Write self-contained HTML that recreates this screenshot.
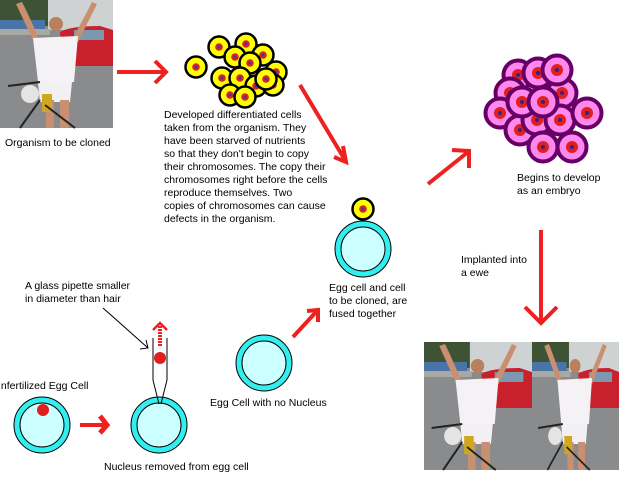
<!DOCTYPE html>
<html><head><meta charset="utf-8"><style>
html,body{margin:0;padding:0;background:#fff;}
svg{display:block}
text{font-family:"Liberation Sans",sans-serif;font-size:10.5px;fill:#000}
</style></head><body>
<svg width="620" height="480" viewBox="0 0 620 480" xmlns="http://www.w3.org/2000/svg">
<defs>
<g id="photo">
<rect width="113" height="128" fill="#8a8b8c"/>
<rect width="55" height="26" fill="#3e5234"/>
<rect x="48" y="0" width="65" height="30" fill="#cfd2d2"/>
<rect x="0" y="20" width="45" height="9" fill="#4a74a8"/>
<rect x="0" y="29" width="50" height="6" fill="#a8a8a4"/>
<path d="M60 32 Q70 26 100 26 L113 30 L113 66 L72 66 L62 52Z" fill="#c8202c"/>
<rect x="74" y="30" width="30" height="10" fill="#7b98ae"/>
<path d="M16 4 L22 2 L26 10 L38 36 L34 42Z" fill="#c89070"/>
<path d="M97 4 L92 2 L88 10 L74 36 L78 42Z" fill="#c89070"/>
<circle cx="56" cy="24" r="7" fill="#b8805c"/>
<path d="M33 38 L78 36 L74 82 L38 82Z" fill="#f4f2f4"/>
<path d="M38 82 L72 82 L70 102 L40 102Z" fill="#f2f0f2"/>
<rect x="46" y="100" width="8" height="28" fill="#c89070"/>
<rect x="60" y="100" width="9" height="28" fill="#c89070"/>
<circle cx="30" cy="94" r="9" fill="#e4e4e4"/>
<rect x="42" y="94" width="10" height="18" fill="#d0a820"/>
<g stroke="#222" stroke-width="2" fill="none"><line x1="8" y1="86" x2="40" y2="82"/><line x1="40" y1="100" x2="20" y2="128"/><line x1="45" y1="105" x2="75" y2="128"/></g>
</g>
<g id="yc"><circle r="10.5" fill="#ffff00" stroke="#000" stroke-width="2.5"/><circle r="3.8" fill="#e02020"/><circle r="1.5" fill="#3040a0"/></g>
<g id="pc"><circle r="14.5" fill="#ff88ee" stroke="#660066" stroke-width="4"/><circle r="6" fill="#e02020"/><circle r="2" fill="#3a2080"/></g>
</defs>

<use href="#photo" x="0" y="0"/>
<g transform="translate(424,342) scale(0.956,1)"><use href="#photo"/></g>
<g transform="translate(532,342) scale(0.77,1)"><use href="#photo"/></g>

<use href="#yc" x="196" y="67"/>
<use href="#yc" x="219" y="47"/>
<use href="#yc" x="246" y="44"/>
<use href="#yc" x="263" y="55"/>
<use href="#yc" x="235" y="57"/>
<use href="#yc" x="276" y="72"/>
<use href="#yc" x="222" y="78"/>
<use href="#yc" x="250" y="63"/>
<use href="#yc" x="240" y="78"/>
<use href="#yc" x="256" y="86"/>
<use href="#yc" x="273" y="85"/>
<use href="#yc" x="230" y="95"/>
<use href="#yc" x="245" y="97"/>
<use href="#yc" x="266" y="79"/>

<use href="#pc" x="518" y="75"/>
<use href="#pc" x="538" y="73"/>
<use href="#pc" x="510" y="93"/>
<use href="#pc" x="562" y="93"/>
<use href="#pc" x="557" y="70"/>
<use href="#pc" x="500" y="113"/>
<use href="#pc" x="520" y="130"/>
<use href="#pc" x="537" y="120"/>
<use href="#pc" x="560" y="120"/>
<use href="#pc" x="587" y="113"/>
<use href="#pc" x="522" y="102"/>
<use href="#pc" x="543" y="102"/>
<use href="#pc" x="543" y="147"/>
<use href="#pc" x="572" y="147"/>

<g stroke="#ee2020" stroke-width="4" fill="none" stroke-linecap="butt">
<line x1="117" y1="72" x2="165" y2="72"/><polyline points="155,61 166,72 155,83"/>
<line x1="300" y1="85" x2="345" y2="160"/><polyline points="343,146 346,162 334,157"/>
<line x1="428" y1="184" x2="468" y2="152"/><polyline points="452,150 469,151 469,168"/>
<line x1="541" y1="230" x2="541" y2="323"/><polyline points="525,307 541,323 557,307"/>
<line x1="80" y1="425" x2="105" y2="425"/><polyline points="100,416 107,425 100,433" stroke-width="5"/>
<line x1="293" y1="337" x2="316" y2="312"/><polyline points="307,311 318,310 318,322"/>
<line x1="160" y1="346" x2="160" y2="324" stroke-dasharray="2,1"/><polyline points="153,330 160,323 167,330" stroke-width="2.5"/>
</g>

<g stroke="#000" stroke-width="1">
<circle cx="42" cy="425" r="28" fill="#33eeee"/><circle cx="42" cy="425" r="22" fill="#ccffff"/>
<circle cx="159" cy="425" r="28" fill="#33eeee"/><circle cx="159" cy="425" r="22" fill="#ccffff"/>
<circle cx="264" cy="363" r="28" fill="#33eeee"/><circle cx="264" cy="363" r="22" fill="#ccffff"/>
<circle cx="363" cy="249" r="28" fill="#33eeee"/><circle cx="363" cy="249" r="22" fill="#ccffff"/>
</g>
<circle cx="43" cy="410" r="6" fill="#dd2020"/>
<circle cx="160" cy="358" r="6" fill="#dd2020"/>
<use href="#yc" x="363" y="209"/>

<g stroke="#000" stroke-width="1" fill="none">
<line x1="153" y1="338" x2="153" y2="380"/><line x1="167" y1="338" x2="167" y2="380"/>
<line x1="153" y1="380" x2="159" y2="404"/><line x1="167" y1="380" x2="161" y2="404"/>
<line x1="103" y1="308" x2="148" y2="348"/><polyline points="140,349 148,348 146,340"/>
</g>

<text x="5" y="146">Organism to be cloned</text>
<text x="164" y="118">Developed differentiated cells</text>
<text x="164" y="131">taken from the organism.  They</text>
<text x="164" y="144">have been starved of nutrients</text>
<text x="164" y="157">so that they don't begin to copy</text>
<text x="164" y="170">their chromosomes.  The copy their</text>
<text x="164" y="183">chromosomes right before the cells</text>
<text x="164" y="196">reproduce themselves.  Two</text>
<text x="164" y="209">copies of chromosomes can cause</text>
<text x="164" y="222">defects in the organism.</text>
<text x="517" y="181">Begins to develop</text>
<text x="517" y="194">as an embryo</text>
<text x="461" y="263">Implanted into</text>
<text x="461" y="276">a ewe</text>
<text x="329" y="291">Egg cell and cell</text>
<text x="329" y="304">to be cloned, are</text>
<text x="329" y="317">fused together</text>
<text x="25" y="289">A glass pipette smaller</text>
<text x="25" y="302">in diameter than hair</text>
<text x="-2" y="389">Infertilized Egg Cell</text>
<text x="210" y="406">Egg Cell with no Nucleus</text>
<text x="104" y="470">Nucleus removed from egg cell</text>
</svg>
</body></html>
